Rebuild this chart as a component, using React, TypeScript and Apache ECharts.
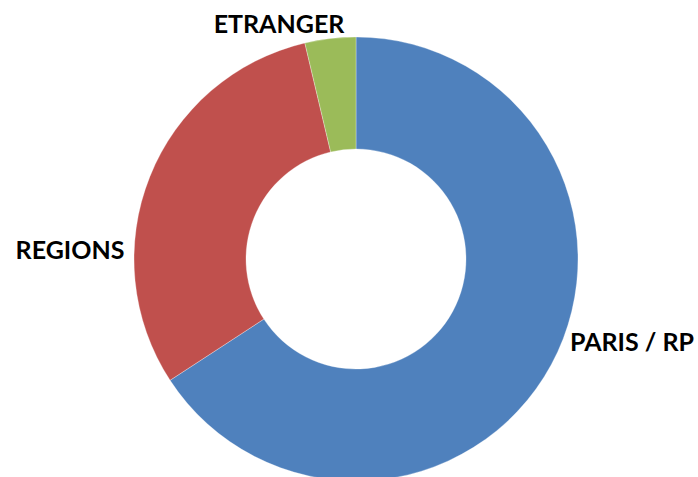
import React, { useEffect, useRef } from "react";
import * as echarts from "echarts";

const categories = ["PARIS / RP", "REGIONS", "ETRANGER"];
const values = [65.8, 30.5, 3.7];
const colors = ["#4F81BD", "#C0504D", "#9BBB59"];

// label anchor positions (layout, not data)
const labelAnchors: [number, number][] = [
  [632, 341],
  [70, 249],
  [279, 23],
];

export default function App() {
  const ref = useRef<HTMLDivElement>(null);
  useEffect(() => {
    document.body.style.margin = "0";
    if (!ref.current) return;
    const chart = echarts.init(ref.current, undefined, { renderer: "svg" });
    chart.setOption({
      animation: false,
      backgroundColor: "#ffffff",
      series: [
        {
          type: "pie",
          center: [356, 259],
          radius: [110, 222],
          startAngle: 90,
          clockwise: true,
          avoidLabelOverlap: false,
          data: categories.map((name, i) => ({
            name,
            value: values[i],
            itemStyle: { color: colors[i] },
          })),
          itemStyle: { borderColor: "rgba(255,255,255,0.5)", borderWidth: 0.6 },
          label: {
            show: true,
            position: "outside",
            formatter: "{b}",
            color: "#000000",
            fontFamily: "Lato",
            fontWeight: "bold",
            fontSize: 25,
          },
          labelLine: { show: false },
          labelLayout: (params: any) => {
            const p = labelAnchors[params.dataIndex];
            return { x: p[0], y: p[1], align: "center", verticalAlign: "middle" };
          },
          emphasis: { disabled: true },
        },
      ],
    });
    return () => chart.dispose();
  }, []);
  return <div ref={ref} style={{ width: 698, height: 477 }} />;
}
